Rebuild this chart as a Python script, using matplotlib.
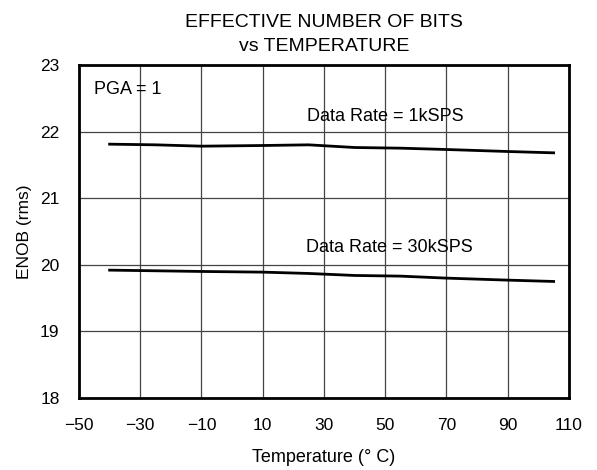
import numpy as np
from matplotlib import pyplot as plt

plt.rcParams["font.family"] = ["Liberation Sans", "DejaVu Sans"]

# ENOB vs temperature, PGA = 1
temp = [-40, -25, -10, 10, 25, 40, 55, 70, 90, 105]
enob_1ksps = [21.81, 21.80, 21.78, 21.79, 21.80, 21.76, 21.75, 21.73, 21.70, 21.68]
enob_30ksps = [19.92, 19.91, 19.90, 19.89, 19.87, 19.84, 19.83, 19.80, 19.77, 19.75]

x_ticks = [-50, -30, -10, 10, 30, 50, 70, 90, 110]
y_ticks = [18, 19, 20, 21, 22, 23]

fig = plt.figure(figsize=(5.97, 4.70), dpi=100)
ax = fig.add_axes([0.1323, 0.153, 0.8207, 0.709])

ax.plot(temp, enob_1ksps, color="black", linewidth=2)
ax.plot(temp, enob_30ksps, color="black", linewidth=2)

ax.set_xlim(-50, 110)
ax.set_ylim(18, 23)
ax.set_xticks(x_ticks)
ax.set_yticks(y_ticks)
ax.set_xticklabels([str(t).replace("-", "\u2212") for t in x_ticks])
ax.tick_params(length=0, labelsize=12.5)
ax.tick_params(axis="x", pad=14)
ax.tick_params(axis="y", pad=14)
ax.grid(True, color="#444444", linewidth=0.9)

for sp in ax.spines.values():
    sp.set_linewidth(2)

ax.text(-45, 22.63, "PGA = 1", fontsize=13, va="center")
ax.text(50, 22.23, "Data Rate = 1kSPS", fontsize=13, ha="center", va="center")
ax.text(51.5, 20.26, "Data Rate = 30kSPS", fontsize=13, ha="center", va="center")

ax.set_xlabel("Temperature (\u00b0 C)", fontsize=13, labelpad=12)
ax.set_ylabel("ENOB (rms)", fontsize=12.5, labelpad=6)
ax.set_title("EFFECTIVE NUMBER OF BITS\nvs TEMPERATURE", fontsize=14, pad=10,
             linespacing=1.55)

plt.savefig("out.png", dpi=100)
